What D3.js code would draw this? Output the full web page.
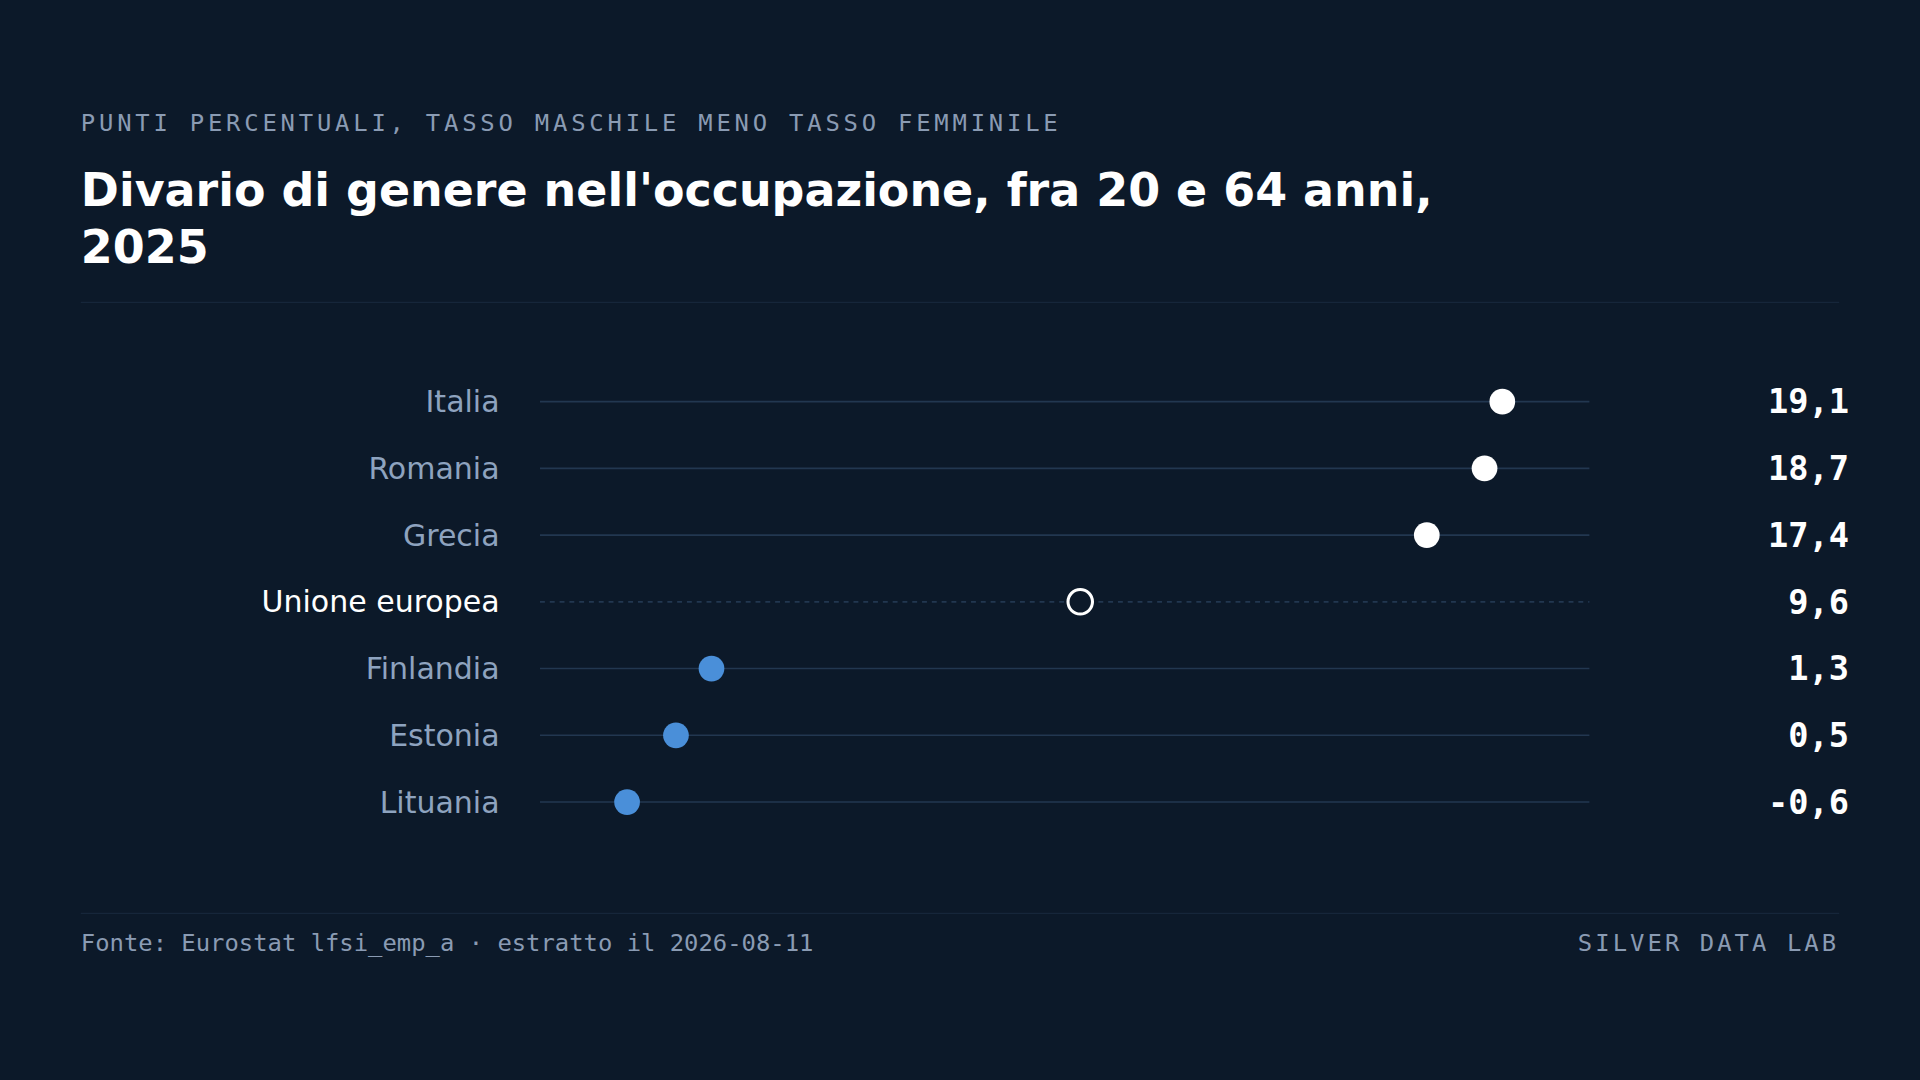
<!DOCTYPE html>
<html><head><meta charset="utf-8">
<script src="https://cdn.jsdelivr.net/npm/d3@7"></script>
<style>
html,body{margin:0;padding:0;background:#0c1929;}
svg{display:block;}
</style></head>
<body>
<script>
// data
var countries = ["Italia", "Romania", "Grecia", "Unione europea", "Finlandia", "Estonia", "Lituania"];
var gaps = [19.1, 18.7, 17.4, 9.6, 1.3, 0.5, -0.6];
var labels = ["19,1", "18,7", "17,4", "9,6", "1,3", "0,5", "-0,6"];
var average = "Unione europea";

var W = 1568, H = 882;
var svg = d3.select("body").append("svg")
    .attr("width", 1920).attr("height", 1080)
    .attr("viewBox", "0 0 " + W + " " + H);

svg.append("rect").attr("width", W).attr("height", H).attr("fill", "#0c1929");

var mono = "'DejaVu Sans Mono', monospace";
var sans = "'DejaVu Sans', sans-serif";

svg.append("text").attr("x", 66).attr("y", 107)
    .attr("fill", "#8a9bb3").style("font-family", mono).style("font-size", "19.5px")
    .style("letter-spacing", "3.1px")
    .text("PUNTI PERCENTUALI, TASSO MASCHILE MENO TASSO FEMMINILE");

var title = svg.append("text").attr("fill", "#ffffff").style("font-family", sans)
    .style("font-size", "37.5px").style("font-weight", "bold");
title.append("tspan").attr("x", 66).attr("y", 168).text("Divario di genere nell'occupazione, fra 20 e 64 anni,");
title.append("tspan").attr("x", 66).attr("y", 215).text("2025");

svg.append("line").attr("x1", 66).attr("x2", 1502).attr("y1", 247).attr("y2", 247)
    .attr("stroke", "#16263a").attr("stroke-width", 1);

var x = d3.scaleLinear().domain([-2.56, 21.06]).range([441, 1298]);
var y = d3.scalePoint().domain(countries).range([328, 655]);

var rows = svg.append("g").selectAll("g").data(countries).enter().append("g")
    .attr("transform", function(d) { return "translate(0," + y(d) + ")"; });

rows.append("line").attr("x1", x.range()[0]).attr("x2", x.range()[1])
    .attr("stroke", "#223750").attr("stroke-width", 1.3)
    .attr("stroke-dasharray", function(d) { return d === average ? "4,4" : null; });

rows.append("text").attr("x", 408).attr("dy", "0.35em").attr("text-anchor", "end")
    .style("font-family", sans).style("font-size", "24.5px")
    .attr("fill", function(d) { return d === average ? "#ffffff" : "#8ea3bf"; })
    .text(function(d) { return d; });

rows.append("circle")
    .attr("cx", function(d, i) { return x(gaps[i]); })
    .attr("r", function(d) { return d === average ? 10 : 10.5; })
    .attr("fill", function(d, i) { return d === average ? "#0c1929" : (gaps[i] > 10 ? "#ffffff" : "#4a8fd9"); })
    .attr("stroke", function(d) { return d === average ? "#ffffff" : "none"; })
    .attr("stroke-width", 2.5);

rows.append("text").attr("x", 1510).attr("dy", "0.35em").attr("text-anchor", "end")
    .style("font-family", mono).style("font-size", "27.5px").style("font-weight", "bold")
    .attr("fill", "#ffffff")
    .text(function(d, i) { return labels[i]; });

svg.append("line").attr("x1", 66).attr("x2", 1502).attr("y1", 746).attr("y2", 746)
    .attr("stroke", "#16263a").attr("stroke-width", 1);

svg.append("text").attr("x", 66).attr("y", 777).attr("fill", "#8a9bb3")
    .style("font-family", mono).style("font-size", "19.5px")
    .text("Fonte: Eurostat lfsi_emp_a · estratto il 2026-08-11");
svg.append("text").attr("x", 1502).attr("y", 777).attr("text-anchor", "end").attr("fill", "#8a9bb3")
    .style("font-family", mono).style("font-size", "19.5px").style("letter-spacing", "2.5px")
    .text("SILVER DATA LAB");
</script>
</body></html>
